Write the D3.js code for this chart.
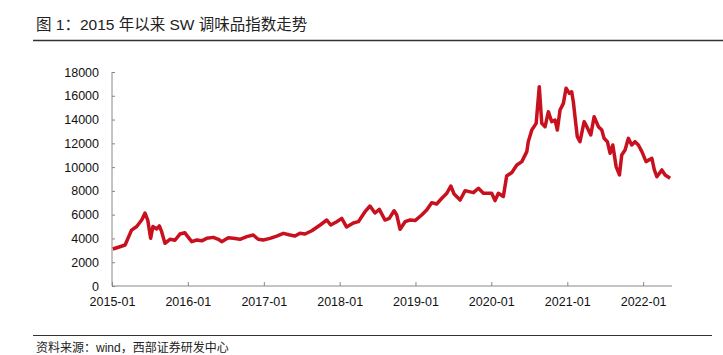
<!DOCTYPE html>
<html><head><meta charset="utf-8">
<script src="https://cdn.jsdelivr.net/npm/d3@7"></script>
<style>body{margin:0;background:#fff;}svg{display:block;}</style>
</head><body>
<svg id="c" width="723" height="355"></svg>
<script>
const titleText = "图 1：2015 年以来 SW 调味品指数走势";
const sourceText = "资料来源：wind，西部证券研发中心";
const dates = ["2015-01-05","2015-02-08","2015-03-05","2015-04-05","2015-04-30","2015-05-24","2015-06-09","2015-06-22","2015-07-06","2015-07-17","2015-08-04","2015-08-17","2015-08-28","2015-09-13","2015-10-07","2015-10-31","2015-11-24","2015-12-18","2015-12-28","2016-01-20","2016-02-13","2016-03-08","2016-04-01","2016-05-03","2016-05-27","2016-06-12","2016-07-14","2016-08-07","2016-09-08","2016-10-11","2016-11-11","2016-12-05","2016-12-29","2017-01-31","2017-03-04","2017-04-05","2017-05-07","2017-05-31","2017-06-24","2017-07-18","2017-08-20","2017-09-29","2017-10-31","2017-11-19","2017-12-18","2018-01-11","2018-02-03","2018-03-08","2018-04-01","2018-05-03","2018-05-27","2018-06-20","2018-07-11","2018-08-07","2018-08-28","2018-09-20","2018-10-03","2018-10-19","2018-11-12","2018-12-06","2018-12-30","2019-01-31","2019-02-24","2019-03-20","2019-04-13","2019-05-08","2019-06-01","2019-06-20","2019-07-06","2019-08-04","2019-08-28","2019-10-07","2019-10-31","2019-11-24","2020-01-03","2020-01-19","2020-02-04","2020-02-28","2020-03-15","2020-04-09","2020-05-03","2020-05-27","2020-06-20","2020-06-27","2020-07-14","2020-08-04","2020-08-19","2020-08-31","2020-09-16","2020-10-02","2020-10-18","2020-11-03","2020-11-14","2020-11-27","2020-12-13","2020-12-26","2021-01-11","2021-01-22","2021-01-30","2021-02-07","2021-02-18","2021-03-03","2021-03-23","2021-04-05","2021-04-24","2021-05-10","2021-05-31","2021-06-16","2021-06-27","2021-07-13","2021-07-26","2021-08-08","2021-08-24","2021-09-09","2021-09-20","2021-10-06","2021-10-22","2021-11-07","2021-11-23","2021-12-09","2021-12-26","2022-01-15","2022-02-12","2022-02-24","2022-03-08","2022-04-01","2022-04-17","2022-05-11"];
const values = [3110,3300,3450,4700,5000,5550,6130,5550,4010,5000,4800,5050,4570,3590,3930,3850,4370,4480,4230,3730,3870,3800,4010,4090,3930,3730,4060,4010,3930,4150,4290,3930,3870,4010,4200,4430,4290,4200,4430,4370,4650,5130,5550,5130,5410,5690,4970,5300,5410,6250,6730,6140,6450,5550,5690,6330,5970,4770,5410,5550,5500,5970,6390,7010,6900,7380,7800,8410,7740,7230,8020,7850,8220,7800,7800,7180,7800,7530,9250,9550,10180,10460,11300,12140,13120,13680,16760,13680,13400,14660,13820,13960,13120,14800,15360,16630,16200,16340,15500,14240,12560,12140,13820,13400,12700,14240,13400,13120,12420,12140,11160,11860,10040,9340,11020,11440,12420,11860,12140,11860,11300,10460,10740,9760,9190,9760,9340,9060];
const yTicks = [0,2000,4000,6000,8000,10000,12000,14000,16000,18000];
const xTickLabels = ["2015-01","2016-01","2017-01","2018-01","2019-01","2020-01","2021-01","2022-01"];
const xStart = "2015-01-01", xEnd = "2022-05-20";

const parse = d3.timeParse("%Y-%m-%d");
const parseM = d3.timeParse("%Y-%m");
const data = dates.map((d,i)=>({t:parse(d), v:values[i]}));
const svg = d3.select("#c");
const font = "'Liberation Sans', Arial, 'Noto Sans CJK SC', sans-serif";

const x = d3.scaleTime().domain([parse(xStart), parse(xEnd)]).range([112, 672]);
const y = d3.scaleLinear().domain([0,18000]).range([286, 72]);

// title
svg.append("text").attr("x",36).attr("y",30).attr("font-family",font).attr("font-size",15.5).attr("fill","#222").text(titleText);
svg.append("line").attr("x1",33).attr("x2",723).attr("y1",40.5).attr("y2",40.5).attr("stroke","#333").attr("stroke-width",1.3);

// y axis
const yAxis = svg.append("g").attr("transform","translate(112,0)")
  .call(d3.axisRight(y).tickValues(yTicks).tickSize(3).tickFormat(d=>d));
yAxis.select(".domain").attr("stroke","#888").attr("d","M0,72V286");
yAxis.selectAll(".tick line").attr("stroke","#888");
yAxis.selectAll(".tick text").attr("x",-13).attr("text-anchor","end").attr("font-family",font).attr("font-size",12.5).attr("fill","#111");

// x axis
const xAxis = svg.append("g").attr("transform","translate(0,286)")
  .call(d3.axisTop(x).tickValues(xTickLabels.map(parseM)).tickSize(4).tickFormat(d3.timeFormat("%Y-%m")));
xAxis.select(".domain").attr("stroke","#888").attr("d","M112,0H672");
xAxis.selectAll(".tick line").attr("stroke","#888");
xAxis.selectAll(".tick text").attr("y",20).attr("dy","0").attr("font-family",font).attr("font-size",12.5).attr("fill","#111");

// line
svg.append("path").datum(data)
  .attr("d", d3.line().x(d=>x(d.t)).y(d=>y(d.v)))
  .attr("fill","none").attr("stroke","#c8101e").attr("stroke-width",3.5).attr("stroke-linejoin","round");

// footer
svg.append("line").attr("x1",33).attr("x2",712).attr("y1",335.5).attr("y2",335.5).attr("stroke","#333").attr("stroke-width",1.2);
svg.append("text").attr("x",36).attr("y",352).attr("font-family",font).attr("font-size",12).attr("fill","#222").text(sourceText);
</script>
</body></html>
